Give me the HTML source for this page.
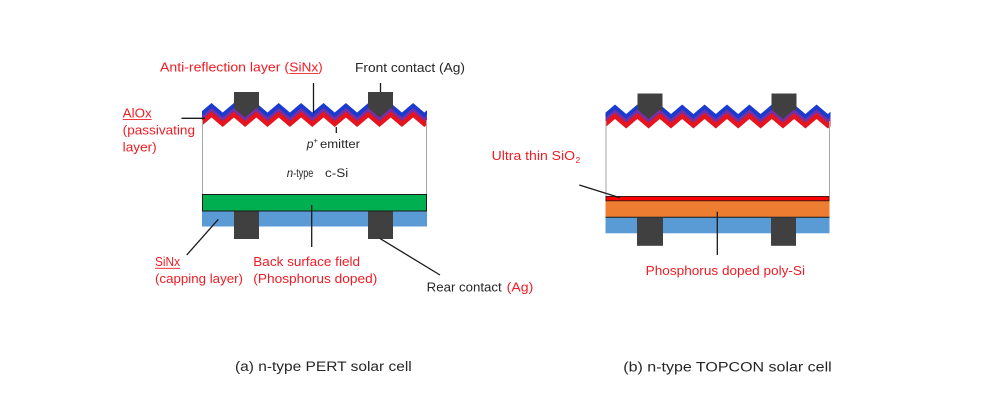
<!DOCTYPE html>
<html>
<head>
<meta charset="utf-8">
<style>
  html,body{margin:0;padding:0;background:#fff;}
  svg{display:block;}
  text{font-family:"Liberation Sans", sans-serif;}
</style>
</head>
<body>
<svg width="1000" height="412" viewBox="0 0 1000 412" xmlns="http://www.w3.org/2000/svg">
  <defs>
    <path id="zig" d="M202,8.1 L211.5,0 L222.7,9.5 L233.9,0 L245.1,9.5 L256.3,0 L267.5,9.5 L278.7,0 L289.9,9.5 L301.1,0 L312.3,9.5 L323.5,0 L334.7,9.5 L345.9,0 L357.1,9.5 L368.3,0 L379.5,9.5 L390.7,0 L401.9,9.5 L413.1,0 L424.3,9.5 L427,7.2 L427,30 L202,30 Z"/>
    <g id="topband">
      <use href="#zig" y="103" fill="#1b3bd0"/>
      <polygon points="234,92 259,92 259,110 246.5,122 234,110" fill="#404040"/>
      <polygon points="368,92 393,92 393,110 380.5,122 368,110" fill="#404040"/>
      <use href="#zig" y="108" fill="#7530a4"/>
      <use href="#zig" y="111.5" fill="#e5141f"/>
      <use href="#zig" y="117.5" fill="#ffffff"/>
    </g>
  </defs>

  <rect width="1000" height="412" fill="#fff"/>

  <!-- ===== LEFT: PERT ===== -->
  <use href="#topband"/>
  <!-- cell side edges -->
  <line x1="202.5" y1="120" x2="202.5" y2="194" stroke="#a6a6a6" stroke-width="1"/>
  <line x1="426.5" y1="120" x2="426.5" y2="194" stroke="#a6a6a6" stroke-width="1"/>
  <!-- green BSF -->
  <rect x="202" y="211" width="225" height="15.5" fill="#5b9bd5"/>
  <rect x="202.5" y="194.5" width="224" height="16.5" fill="#00b050" stroke="#1a1a1a" stroke-width="1"/>
  <rect x="234" y="211.5" width="25" height="27.5" fill="#404040"/>
  <rect x="368" y="211.5" width="25" height="27.5" fill="#404040"/>

  <!-- leader lines left -->
  <g stroke="#1a1a1a" stroke-width="1.3" fill="none">
    <line x1="181.5" y1="118.3" x2="205" y2="118.3"/>
    <line x1="313.5" y1="83" x2="313.5" y2="113"/>
    <line x1="380.5" y1="83" x2="380.5" y2="92"/>
    <line x1="336.3" y1="127" x2="336.3" y2="133"/>
    <line x1="186.7" y1="255" x2="218.3" y2="219.3"/>
    <line x1="311.7" y1="205" x2="311.7" y2="247"/>
    <line x1="380" y1="238.5" x2="440" y2="275"/>
  </g>

  <!-- labels left -->
  <g font-size="12.5">
    <text x="160" y="71.5" fill="#ee1c24" textLength="129" lengthAdjust="spacingAndGlyphs">Anti-reflection layer (</text>
    <text x="289.3" y="71.5" fill="#ee1c24" textLength="29" lengthAdjust="spacingAndGlyphs">SiNx</text>
    <text x="318.3" y="71.5" fill="#ee1c24" textLength="4.4" lengthAdjust="spacingAndGlyphs">)</text>
    <line x1="289.3" y1="73.6" x2="318.3" y2="73.6" stroke="#ee1c24" stroke-width="0.9"/>

    <text x="355" y="72" fill="#262626" textLength="110" lengthAdjust="spacingAndGlyphs">Front contact (Ag)</text>

    <text x="122.7" y="117.3" fill="#ee1c24" textLength="29" lengthAdjust="spacingAndGlyphs">AlOx</text>
    <line x1="122.7" y1="119.6" x2="151.7" y2="119.6" stroke="#ee1c24" stroke-width="0.9"/>
    <text x="122.7" y="134.3" fill="#ee1c24" textLength="72.3" lengthAdjust="spacingAndGlyphs">(passivating</text>
    <text x="122.7" y="151.3" fill="#ee1c24" textLength="34" lengthAdjust="spacingAndGlyphs">layer)</text>

    <text x="306.7" y="148" fill="#262626" font-style="italic" font-size="12">p</text>
    <text x="313.5" y="143" fill="#262626" font-size="7.5">+</text>
    <text x="320" y="148" fill="#262626" font-size="11.5" textLength="40" lengthAdjust="spacingAndGlyphs">emitter</text>

    <text x="286.7" y="177" fill="#262626" font-style="italic" font-size="11.5">n</text>
    <text x="293.3" y="177" fill="#262626" font-size="11.5" textLength="20" lengthAdjust="spacingAndGlyphs">-type</text>
    <text x="325" y="177" fill="#262626" font-size="11.5" textLength="23.3" lengthAdjust="spacingAndGlyphs">c-Si</text>

    <text x="155" y="266" fill="#ee1c24" textLength="25" lengthAdjust="spacingAndGlyphs">SiNx</text>
    <line x1="155" y1="268.3" x2="180" y2="268.3" stroke="#ee1c24" stroke-width="0.9"/>
    <text x="155" y="283" fill="#ee1c24" textLength="88" lengthAdjust="spacingAndGlyphs">(capping layer)</text>

    <text x="253.3" y="266" fill="#ee1c24" textLength="106.7" lengthAdjust="spacingAndGlyphs">Back surface field</text>
    <text x="253.3" y="283" fill="#ee1c24" textLength="124" lengthAdjust="spacingAndGlyphs">(Phosphorus doped)</text>

    <text x="426.7" y="291.5" fill="#262626" textLength="75" lengthAdjust="spacingAndGlyphs">Rear contact</text>
    <text x="506.7" y="291.5" fill="#ee1c24" textLength="26.6" lengthAdjust="spacingAndGlyphs">(Ag)</text>
  </g>

  <!-- ===== RIGHT: TOPCON ===== -->
  <g transform="translate(403.5,1.5)">
    <use href="#topband"/>
  </g>
  <line x1="606" y1="121" x2="606" y2="196" stroke="#a6a6a6" stroke-width="1"/>
  <line x1="829.5" y1="121" x2="829.5" y2="196" stroke="#a6a6a6" stroke-width="1"/>
  <rect x="605.5" y="201" width="224" height="16.3" fill="#ed7d31"/>
  <rect x="605.5" y="217.3" width="224" height="16" fill="#5b9bd5"/>
  <line x1="605.5" y1="217.3" x2="829.5" y2="217.3" stroke="#1a1a1a" stroke-width="1"/>
  <rect x="605.9" y="196.4" width="223.2" height="4.4" fill="#ff0000" stroke="#1a1a1a" stroke-width="0.8"/>
  <rect x="637" y="217.8" width="26" height="28" fill="#404040"/>
  <rect x="771" y="217.8" width="25" height="28" fill="#404040"/>

  <g stroke="#1a1a1a" stroke-width="1.3" fill="none">
    <line x1="579.3" y1="185" x2="620" y2="197.7"/>
    <line x1="717.3" y1="211.7" x2="717.3" y2="255"/>
  </g>

  <g font-size="12.5">
    <text x="491.7" y="160" fill="#ee1c24" textLength="83.3" lengthAdjust="spacingAndGlyphs">Ultra thin SiO</text>
    <text x="575.5" y="163" fill="#ee1c24" font-size="8.5">2</text>
    <text x="645.7" y="275" fill="#ee1c24" textLength="159.3" lengthAdjust="spacingAndGlyphs">Phosphorus doped poly-Si</text>
  </g>

  <!-- captions -->
  <g font-size="13.5" fill="#262626">
    <text x="235" y="371" textLength="176.7" lengthAdjust="spacingAndGlyphs">(a) n-type PERT solar cell</text>
    <text x="623.3" y="371.5" textLength="208.4" lengthAdjust="spacingAndGlyphs">(b) n-type TOPCON solar cell</text>
  </g>
</svg>
</body>
</html>
